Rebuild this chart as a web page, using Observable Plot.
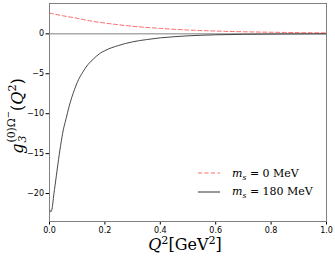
<!DOCTYPE html>
<html><head><meta charset="utf-8">
<script src="https://cdn.jsdelivr.net/npm/d3@7"></script>
<script src="https://cdn.jsdelivr.net/npm/@observablehq/plot@0.6"></script>
<style>
body{margin:0;background:#fff;}
#wrap{position:relative;width:335px;height:256px;font-family:"DejaVu Serif","Liberation Serif",serif;}
.ylab{position:absolute;left:18px;top:116px;transform:translate(-50%,-50%) rotate(-90deg);white-space:nowrap;font-size:16px;line-height:1;}
.xlab{position:absolute;left:185px;top:237px;transform:translateX(-50%);white-space:nowrap;font-size:16px;line-height:16px;}
.leg{position:absolute;left:198px;top:164px;font-size:11px;}
.row{display:flex;align-items:center;height:18.5px;}
.row svg{margin-right:12px;}
i{font-style:italic;}
sup,sub{line-height:0;}
.ss{display:inline-flex;flex-direction:column;vertical-align:middle;line-height:1;font-size:0.68em;margin-left:1px;}
</style></head>
<body><div id="wrap"></div>
<script>
// data
const q2Black = [0,0.004,0.008,0.012,0.016,0.02,0.03,0.04,0.05,0.06,0.07,0.08,0.09,0.10,0.12,0.14,0.16,0.18,0.20,0.25,0.30,0.35,0.40,0.45,0.50,0.6,0.7,0.8,0.9,1.0];
const gBlack  = [-21.9,-22.3,-22.1,-21.2,-20.0,-19.0,-16.4,-14.0,-12.0,-10.6,-9.2,-8.0,-7.0,-6.1,-4.8,-3.8,-3.1,-2.5,-2.1,-1.45,-1.0,-0.72,-0.5,-0.36,-0.25,-0.12,-0.06,-0.03,-0.01,0];
const q2Red = [0,0.05,0.1,0.15,0.2,0.3,0.4,0.5,0.6,0.7,0.8,0.9,1.0];
const gRed  = [2.6,2.25,1.95,1.6,1.35,0.95,0.68,0.48,0.35,0.26,0.2,0.15,0.12];
const xTicks = [0,0.2,0.4,0.6,0.8,1.0];
const yTicks = [-20,-15,-10,-5,0];
const seriesLabels = ["0","180"];

const black = q2Black.map((x,i)=>({x,y:gBlack[i]}));
const red = q2Red.map((x,i)=>({x,y:gRed[i]}));

const chart = Plot.plot({
  width:335, height:256,
  marginLeft:49, marginRight:9, marginTop:3, marginBottom:35,
  style:{fontFamily:"DejaVu Sans, sans-serif", fontSize:"8px", color:"#000", background:"#fff"},
  x:{domain:[0,1], ticks:xTicks, tickFormat:d3.format(".1f"), label:null, tickSize:3.5, tickPadding:2},
  y:{domain:[-23.5,3.8], ticks:yTicks, label:null, tickSize:3.5, tickPadding:2},
  marks:[
    Plot.ruleY([0],{stroke:"#808080",strokeWidth:1}),
    Plot.line(red,{x:"x",y:"y",curve:"monotone-x",stroke:"#ff4d4d",strokeOpacity:0.85,strokeWidth:1,strokeDasharray:"4,2.5"}),
    Plot.line(black,{x:"x",y:"y",curve:"monotone-x",stroke:"#333",strokeWidth:0.9}),
    Plot.frame({stroke:"#808080",strokeWidth:1})
  ]
});
const wrap = document.getElementById("wrap");
wrap.appendChild(chart);
wrap.insertAdjacentHTML("beforeend",
  `<div class="ylab"><i>g</i><span class="ss"><span>(0)Ω<sup style="font-size:0.8em">−</sup></span><span><i>3</i></span></span>(<i>Q</i><sup style="font-size:0.7em">2</sup>)</div>
   <div class="xlab"><i>Q</i><sup style="font-size:0.7em">2</sup>[GeV<sup style="font-size:0.7em">2</sup>]</div>
   <div class="leg">
     <div class="row"><svg width="22" height="4"><line x1="0" y1="2" x2="22" y2="2" stroke="#ff4d4d" stroke-opacity="0.85" stroke-dasharray="4,2.5"/></svg><span><i>m<sub style="font-size:0.7em">s</sub></i> = ${seriesLabels[0]} MeV</span></div>
     <div class="row"><svg width="22" height="4"><line x1="0" y1="2" x2="22" y2="2" stroke="#333"/></svg><span><i>m<sub style="font-size:0.7em">s</sub></i> = ${seriesLabels[1]} MeV</span></div>
   </div>`);
</script></body></html>
